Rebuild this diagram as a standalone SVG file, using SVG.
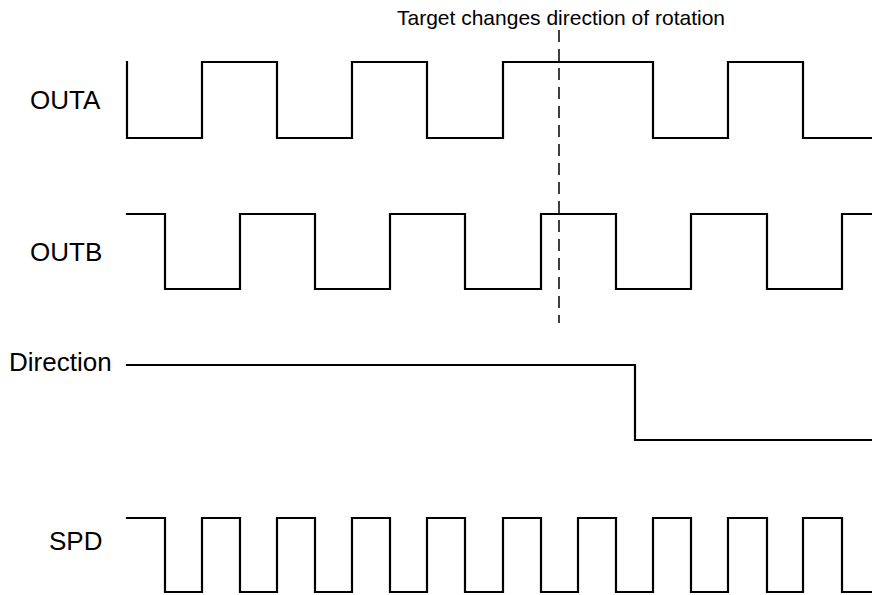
<svg xmlns="http://www.w3.org/2000/svg" width="872" height="595" viewBox="0 0 872 595">
<style>
.sig{fill:none;stroke:#000;stroke-width:2.2;stroke-linejoin:miter;stroke-linecap:square}
.lbl{font-family:"Liberation Sans",Arial,sans-serif;font-size:26px;fill:#000}
.ttl{font-family:"Liberation Sans",Arial,sans-serif;font-size:21px;fill:#000}
.dash{fill:none;stroke:#000;stroke-width:1.5;stroke-dasharray:12,7}
</style>
<rect width="872" height="595" fill="#fff"/>
<g id="labels">
<text class="lbl" x="30" y="109">OUTA</text>
<text class="lbl" x="30" y="261">OUTB</text>
<text class="lbl" x="9" y="371">Direction</text>
<text class="lbl" x="49" y="550">SPD</text>
<text class="ttl" x="561" y="25" text-anchor="middle">Target changes direction of rotation</text>
</g>
<g id="connectors">
<path id="outa" class="sig" d="M127,62 V138 H202 V62 H277 V138 H352 V62 H427 V138 H503 V62 H653 V138 H728 V62 H803 V138 H872"/>
<path id="outb" class="sig" d="M127,214 H165 V289 H240 V214 H315 V289 H390 V214 H465 V289 H541 V214 H616 V289 H691 V214 H767 V289 H842 V214 H872"/>
<path id="direction" class="sig" d="M127,365 H635 V440 H872"/>
<path id="spd" class="sig" d="M127,518 H165 V592 H202 V518 H240 V592 H277 V518 H315 V592 H352 V518 H390 V592 H427 V518 H465 V592 H503 V518 H541 V592 H578 V518 H616 V592 H653 V518 H691 V592 H728 V518 H767 V592 H803 V518 H842 V592 H872"/>
<line id="marker" class="dash" x1="559" y1="30" x2="559" y2="323"/>
</g>
</svg>
